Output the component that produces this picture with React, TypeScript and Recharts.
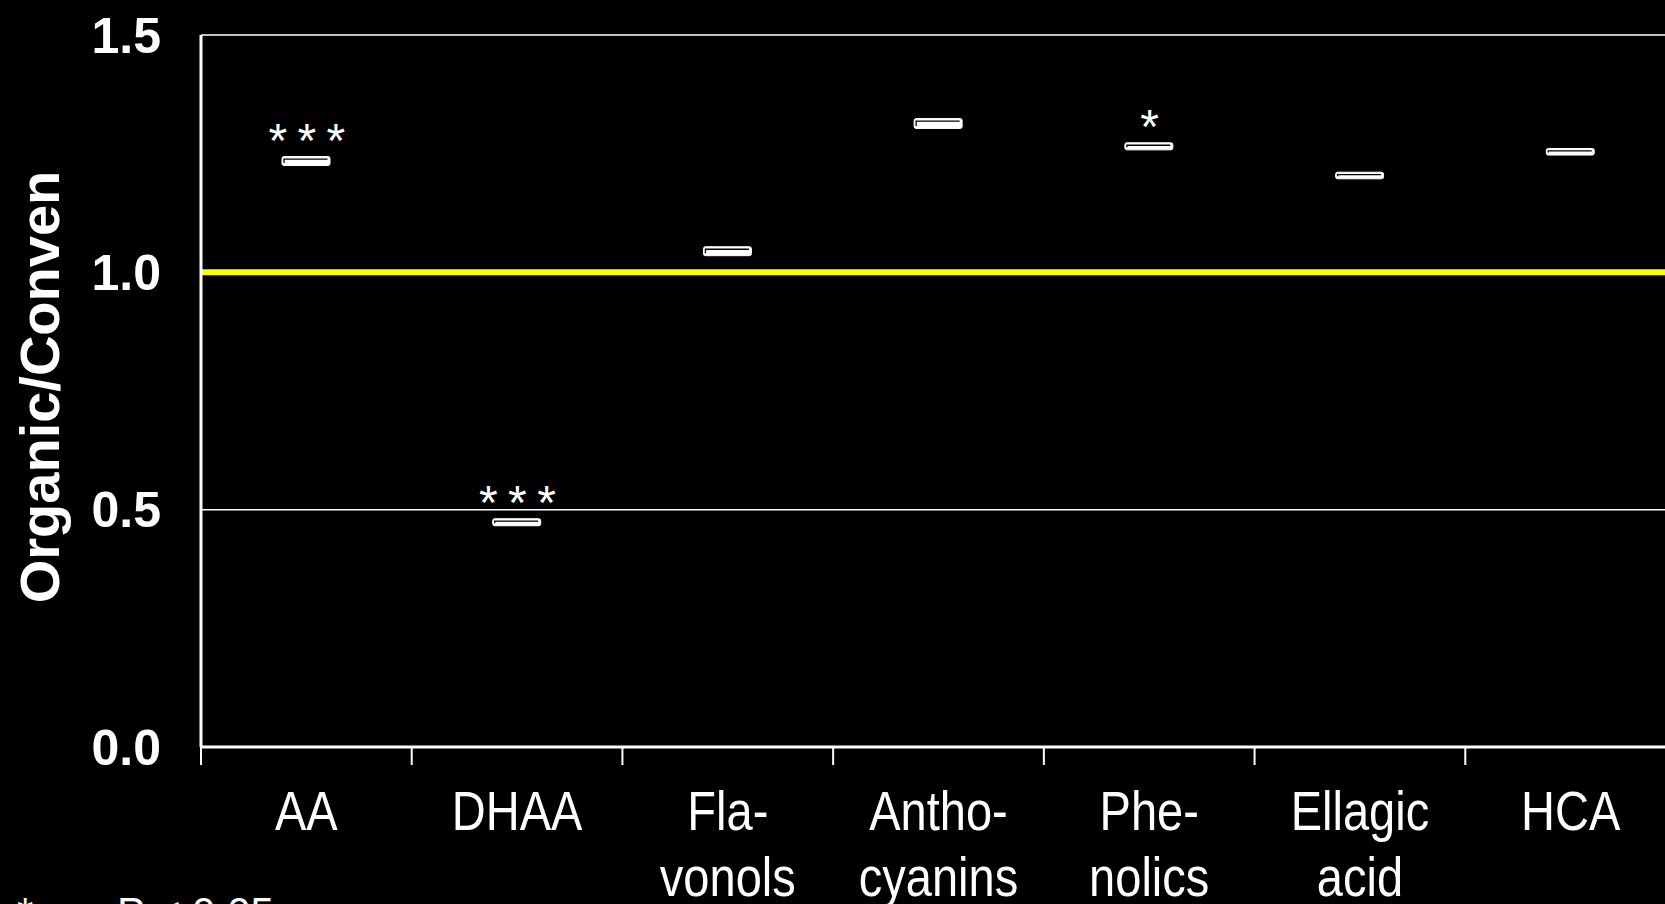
import React from 'react';
import { BarChart, Bar, XAxis, YAxis, CartesianGrid, ReferenceLine, LabelList, Label } from 'recharts';

const categories = ['AA', 'DHAA', 'Flavonols', 'Anthocyanins', 'Phenolics', 'Ellagic acid', 'HCA'];
const tickLines = [['AA'], ['DHAA'], ['Fla-', 'vonols'], ['Antho-', 'cyanins'], ['Phe-', 'nolics'], ['Ellagic', 'acid'], ['HCA']];
const lowValues = [1.224, 0.465, 1.034, 1.302, 1.257, 1.196, 1.246];
const highValues = [1.245, 0.482, 1.055, 1.325, 1.274, 1.212, 1.262];
const significance = ['* * *', '* * *', '', '', '*', '', ''];
const yTicks = [0, 0.5, 1, 1.5];
const yLabel = 'Organic/Conven';
const footnoteStar = '*';
const footnoteText = 'P < 0.05';

const data = categories.map((name, i) => ({
  name,
  range: [lowValues[i], highValues[i]],
  sig: significance[i],
  idx: i,
}));

const FONT = "'Liberation Sans', Arial, Helvetica, sans-serif";
const CHART_W = 1676;
const CHART_H = 907;
const Y_AXIS_W = 201;

const MarkerShape = (props: any) => {
  const { x, y, width, height } = props;
  const top = Math.min(y, y + height);
  const h = Math.max(Math.abs(height), 6);
  return (
    <g>
      <rect x={x + 1} y={top + 0.5} width={width - 2} height={h - 1} rx={2} ry={2} fill="#ffffff" stroke="#ffffff" strokeWidth={1} />
      <path
        d={`M ${x + 3} ${top + h - 3} V ${top + 3} H ${x + width - 3.5}`}
        fill="none"
        stroke="#000000"
        strokeWidth={1.3}
      />
    </g>
  );
};

const SigLabel = (props: any) => {
  const { x, y, width, height, value } = props;
  if (!value) return null;
  const top = Math.min(y, y + height);
  return (
    <text
      x={x + width / 2}
      y={top + 1}
      textAnchor="middle"
      fill="#ffffff"
      fontSize={48}
      letterSpacing={-1.5}
      fontFamily={FONT}
    >
      {value}
    </text>
  );
};

const XTick = (props: any) => {
  const { x, y, payload, index } = props;
  const count = categories.length;
  const bw = (CHART_W - Y_AXIS_W) / count;
  const i = typeof index === 'number' ? index : categories.indexOf(payload.value);
  const lines = tickLines[i] || [String(payload.value)];
  return (
    <g>
      <line x1={x - bw / 2} y1={y} x2={x - bw / 2} y2={y + 18} stroke="#ffffff" strokeWidth={2} />
      {i === count - 1 && (
        <line x1={x + bw / 2} y1={y} x2={x + bw / 2} y2={y + 18} stroke="#ffffff" strokeWidth={2} />
      )}
      {lines.map((t, k) => (
        <text
          key={k}
          transform={`translate(${x},${y + 83 + k * 66}) scale(0.84,1)`}
          textAnchor="middle"
          fill="#ffffff"
          fontSize={56}
          fontFamily={FONT}
        >
          {t}
        </text>
      ))}
    </g>
  );
};

const YLabelContent = () => (
  <text
    transform={`translate(59,387) rotate(-90)`}
    textAnchor="middle"
    fill="#ffffff"
    fontSize={56}
    fontWeight={700}
    fontFamily={FONT}
  >
    {yLabel}
  </text>
);

export default function App() {
  return (
    <div
      style={{
        position: 'absolute',
        left: 0,
        top: 0,
        width: 1665,
        height: 904,
        overflow: 'hidden',
        background: '#000000',
      }}
    >
      <BarChart
        width={CHART_W}
        height={CHART_H}
        data={data}
        margin={{ top: 35, right: 0, bottom: 0, left: 0 }}
        barSize={50}
      >
        <CartesianGrid horizontal vertical={false} stroke="#ffffff" strokeWidth={1.5} />
        <XAxis
          dataKey="name"
          type="category"
          interval={0}
          height={160}
          axisLine={{ stroke: '#ffffff', strokeWidth: 3 }}
          tickLine={false}
          tickSize={0}
          tickMargin={0}
          tick={<XTick />}
        />
        <YAxis
          type="number"
          domain={[0, 1.5]}
          ticks={yTicks}
          width={Y_AXIS_W}
          axisLine={{ stroke: '#ffffff', strokeWidth: 3 }}
          tickLine={false}
          tickSize={0}
          tickMargin={40}
          tickFormatter={(v: number) => v.toFixed(1)}
          tick={{ fill: '#ffffff', fontSize: 50, fontWeight: 700, fontFamily: FONT }}
        >
          <Label content={<YLabelContent />} />
        </YAxis>
        <ReferenceLine y={1} stroke="#ffff00" strokeWidth={6} />
        <Bar dataKey="range" isAnimationActive={false} shape={<MarkerShape />}>
          <LabelList dataKey="sig" content={<SigLabel />} />
        </Bar>
      </BarChart>
      <svg
        width={1665}
        height={904}
        style={{ position: 'absolute', left: 0, top: 0, pointerEvents: 'none' }}
      >
        <text x={17} y={927} fill="#ffffff" fontSize={42} fontFamily={FONT}>
          {footnoteStar}
        </text>
        <text x={117} y={927} fill="#ffffff" fontSize={42} fontFamily={FONT}>
          {footnoteText}
        </text>
      </svg>
    </div>
  );
}
